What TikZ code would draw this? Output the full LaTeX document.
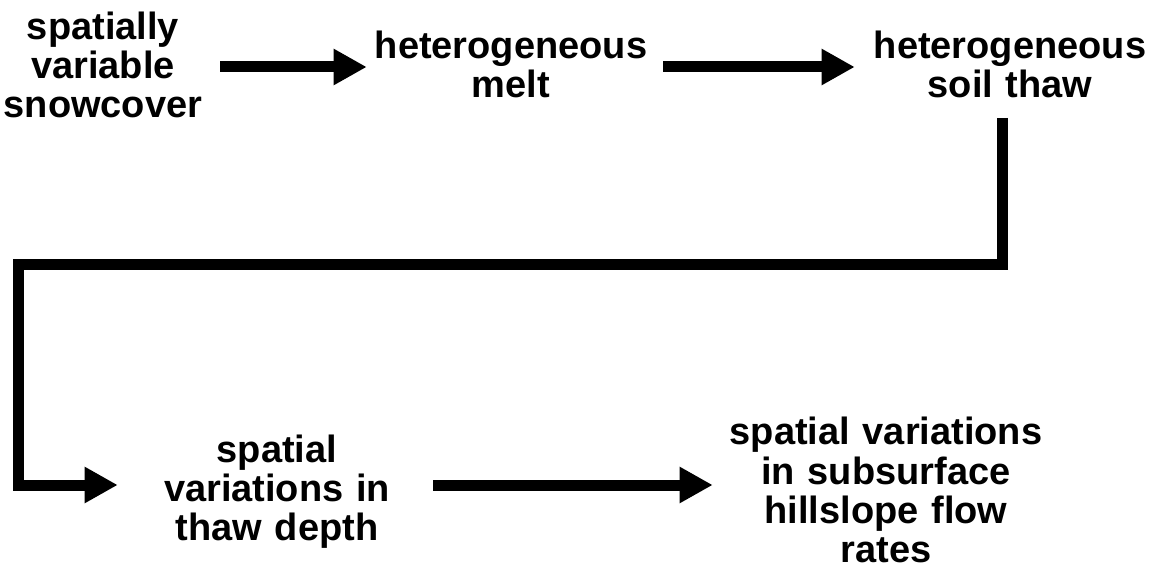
\documentclass[tikz,border=0pt]{standalone}
\usepackage{fontspec}
\setmainfont{Liberation Sans}
\usetikzlibrary{arrows.meta,calc}
\begin{document}
\begin{tikzpicture}[x=0.75pt,y=-0.75pt,
  lbl/.style={inner sep=0pt, align=center, font=\bfseries\fontsize{28.5}{29.3}\selectfont},
  flow/.style={line width=8.25pt, line join=miter,
    -{Triangle[length=24.75pt,width=25.5pt]}}]
\useasboundingbox[fill=white] (0,0) rectangle (1150,570);

% process stages
\node[lbl, text width=250*0.75pt] (a) at (103,65) {spatially\\variable\\snowcover};
\node[lbl, text width=290*0.75pt] (b) at (511,64) {heterogeneous\\melt};
\node[lbl, text width=290*0.75pt] (c) at (1010,64) {heterogeneous\\soil thaw};
\node[lbl, text width=250*0.75pt] (d) at (277,492) {spatial\\variations in\\thaw depth};
\node[lbl, text width=330*0.75pt] (e) at (886,490) {spatial variations\\in subsurface\\hillslope flow\\rates};

% turning point of the return connector
\coordinate (bend) at (18,265);

% connectors
\draw[flow] ($(a.east)+(-8,2)$) -- ($(b.west)+(1,3)$);
\draw[flow] ($(b.east)+(7,3)$) -- ($(c.west)+(-10,3)$);
\draw[flow] ($(c.center)+(-8,54)$) |- (bend) |- ($(d.west)+(-34,-7)$);
\draw[flow] ($(d.east)+(31,-7)$) -- ($(e.west)+(-8,-5)$);
\end{tikzpicture}
\end{document}
